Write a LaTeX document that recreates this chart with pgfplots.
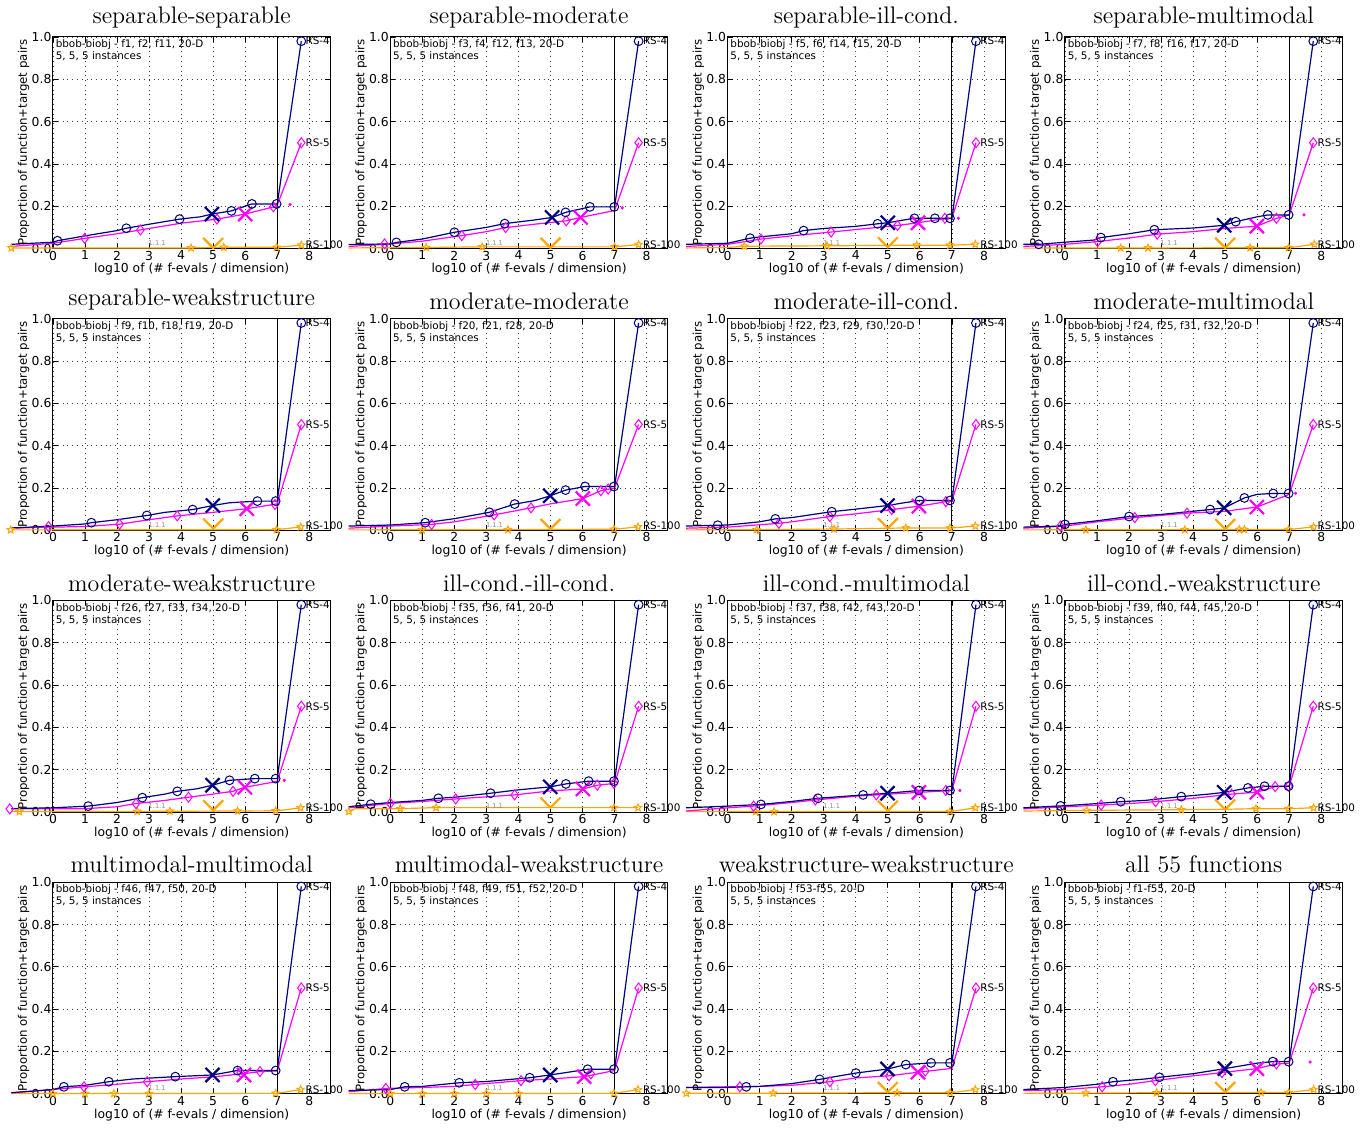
\documentclass[border=0pt]{standalone}
\usepackage{fontspec}
\usepackage{pgfplots}
\pgfplotsset{compat=1.18}
\usetikzlibrary{plotmarks}
\newfontfamily\dv{DejaVu Sans}
\definecolor{navyc}{RGB}{0,0,128}
\definecolor{magc}{RGB}{255,0,255}
\definecolor{orac}{RGB}{255,165,0}
\pgfdeclareplotmark{pstar}{%
 \pgfpathmoveto{\pgfpointpolar{90}{\pgfplotmarksize}}%
 \pgfpathlineto{\pgfpointpolar{126}{0.45\pgfplotmarksize}}%
 \pgfpathlineto{\pgfpointpolar{162}{\pgfplotmarksize}}%
 \pgfpathlineto{\pgfpointpolar{198}{0.45\pgfplotmarksize}}%
 \pgfpathlineto{\pgfpointpolar{234}{\pgfplotmarksize}}%
 \pgfpathlineto{\pgfpointpolar{270}{0.45\pgfplotmarksize}}%
 \pgfpathlineto{\pgfpointpolar{306}{\pgfplotmarksize}}%
 \pgfpathlineto{\pgfpointpolar{342}{0.45\pgfplotmarksize}}%
 \pgfpathlineto{\pgfpointpolar{18}{\pgfplotmarksize}}%
 \pgfpathlineto{\pgfpointpolar{54}{0.45\pgfplotmarksize}}%
 \pgfpathclose\pgfusepathqstroke}
\pgfdeclareplotmark{vee}{%
 \pgfpathmoveto{\pgfqpoint{-\pgfplotmarksize}{\pgfplotmarksize}}%
 \pgfpathlineto{\pgfqpoint{0pt}{0pt}}%
 \pgfpathlineto{\pgfqpoint{\pgfplotmarksize}{\pgfplotmarksize}}%
 \pgfusepathqstroke}
\tikzset{lab/.style={anchor=west, inner sep=0.5pt, xshift=1.5pt, font=\dv\fontsize{5.2}{6}\selectfont}}
\pgfplotsset{
 ecdf/.style={scale only axis, width=139pt, height=106pt,
  xmin=0, xmax=8.66, ymin=0, ymax=1,
  xtick={0,1,2,3,4,5,6,7,8}, xticklabels={0,1,2,3,4,5,6,7,8},
  ytick={0,0.2,0.4,0.6,0.8,1}, yticklabels={0.0,0.2,0.4,0.6,0.8,1.0},
  grid=major, major grid style={dotted, black!75, line width=0.4pt},
  tick align=inside, major tick length=2.5pt, tick style={black, line width=0.4pt},
  axis line style={line width=0.5pt}, clip=false,
  title style={font=\fontsize{12}{14}\selectfont, yshift=-5pt},
  tick label style={font=\dv\fontsize{6.2}{7}\selectfont},
  yticklabel style={inner sep=0.6pt},
  xticklabel style={inner sep=1pt},
  xlabel style={font=\dv\fontsize{6.2}{7}\selectfont, yshift=3pt},
  ylabel style={font=\dv\fontsize{5.9}{7}\selectfont, yshift=-3pt},
  xlabel={log10 of (\# f-evals / dimension)},
  ylabel={Proportion of function+target pairs}},
 c4/.style={color=navyc, line width=0.6pt, mark=none},
 c5/.style={color=magc, line width=0.6pt, mark=none},
 c100/.style={color=orac, line width=0.6pt, mark=none},
 m4/.style={only marks, mark=o, mark size=2.2pt, color=navyc, mark options={line width=0.5pt, fill=none}},
 m5/.style={only marks, mark=diamond, mark size=2.5pt, color=magc, mark options={line width=0.5pt, fill=none}},
 m100/.style={only marks, mark=pstar, mark size=1.9pt, color=orac, mark options={line width=0.5pt}},
 x4/.style={only marks, mark=x, mark size=5pt, color=navyc, mark options={line width=1.1pt}},
 x5/.style={only marks, mark=x, mark size=5pt, color=magc, mark options={line width=1.1pt}},
 v100/.style={only marks, mark=vee, mark size=5pt, color=orac, mark options={line width=1.1pt}},
 dot5/.style={only marks, mark=*, mark size=0.6pt, color=magc},
}
\newcommand{\info}[1]{\node[anchor=north west, inner sep=1.2pt, align=left, font=\dv\fontsize{5.2}{6}\selectfont] at (rel axis cs:0,1) {bbob-biobj - #1, 20-D\\5, 5, 5 instances};}
\newcommand{\common}[1]{%
 \addplot[black, line width=0.5pt] coordinates {(7,0) (7,1)};
 \node[font=\dv\fontsize{3.3}{4}\selectfont, text=black!45, anchor=south, inner sep=0.5pt] at (axis cs:3.25,0.008) {1.1.1};
 \node[lab] at (axis cs:7.75,0.98) {RS-4};
 \node[lab] at (axis cs:7.75,0.5) {RS-5};
 \node[lab] at (axis cs:7.75,#1) {RS-100};}
\begin{document}
\begin{tikzpicture}
% ---------- row 1 ----------
\begin{axis}[ecdf, at={(0pt,0pt)}, title={separable-separable}]
\info{f1, f2, f11}
\addplot[c100] coordinates {(-1.3,0.003)(0,0.003)(4.31,0.003)(5.33,0.006)(7,0.006)(7.75,0.016)};
\addplot[m100] coordinates {(-1.3,0.003)(4.31,0.003)(5.33,0.006)(6.98,0.006)(7.75,0.016)};
\addplot[v100] coordinates {(5,0.003)};
\addplot[c5] coordinates {(-1.3,0.01)(0,0.025)(0.99,0.048)(2,0.07)(2.73,0.088)(4,0.12)(5.12,0.139)(6,0.163)(6.88,0.197)(7,0.205)(7.75,0.5)};
\addplot[m5] coordinates {(0.99,0.048)(2.73,0.088)(5.12,0.139)(6.88,0.197)(7.75,0.5)};
\addplot[x5] coordinates {(6,0.163)};
\addplot[dot5] coordinates {(7.4,0.208)};
\addplot[c4] coordinates {(-1.3,0.02)(0,0.03)(0.14,0.037)(1,0.06)(2,0.085)(2.29,0.096)(3,0.115)(3.95,0.139)(4.6,0.15)(4.96,0.163)(5.57,0.178)(6.21,0.211)(7,0.211)(7.75,0.98)};
\addplot[m4] coordinates {(0.14,0.037)(2.29,0.096)(3.95,0.139)(5.57,0.178)(6.21,0.211)(6.98,0.211)(7.75,0.98)};
\addplot[x4] coordinates {(4.96,0.163)};
\common{0.02}
\end{axis}
\begin{axis}[ecdf, at={(169pt,0pt)}, title={separable-moderate}]
\info{f3, f4, f12, f13}
\addplot[c100] coordinates {(-1.3,0.003)(1.12,0.005)(2.87,0.008)(7,0.008)(7.75,0.019)};
\addplot[m100] coordinates {(1.12,0.005)(2.87,0.008)(7,0.008)(7.75,0.019)};
\addplot[v100] coordinates {(5,0.004)};
\addplot[c5] coordinates {(-1.3,0.01)(-0.18,0.02)(0,0.022)(1,0.035)(2.23,0.061)(3,0.08)(3.6,0.099)(4.5,0.115)(5.49,0.131)(5.94,0.147)(7,0.18)(7.75,0.5)};
\addplot[m5] coordinates {(-0.18,0.022)(2.23,0.061)(3.6,0.099)(5.49,0.131)(7.75,0.5)};
\addplot[x5] coordinates {(5.94,0.147)};
\addplot[dot5] coordinates {(7.24,0.192)};
\addplot[c4] coordinates {(-1.3,0.019)(0,0.022)(0.19,0.029)(1,0.045)(2,0.077)(3,0.1)(3.57,0.118)(4.5,0.135)(5.05,0.147)(5.47,0.171)(6.23,0.197)(7,0.197)(7.75,0.98)};
\addplot[m4] coordinates {(0.19,0.029)(2,0.077)(3.57,0.118)(5.47,0.171)(6.23,0.197)(6.99,0.197)(7.75,0.98)};
\addplot[x4] coordinates {(5.05,0.147)};
\common{0.02}
\end{axis}
\begin{axis}[ecdf, at={(338pt,0pt)}, title={separable-ill-cond.}]
\info{f5, f6, f14, f15}
\addplot[c100] coordinates {(-1.3,0.003)(0,0.005)(0.52,0.011)(3.1,0.013)(5.9,0.016)(7,0.016)(7.73,0.02)};
\addplot[m100] coordinates {(0.52,0.011)(3.1,0.013)(5.9,0.016)(6.94,0.016)(7.73,0.02)};
\addplot[v100] coordinates {(5,0.006)};
\addplot[c5] coordinates {(-1.3,0.01)(0,0.02)(1.04,0.045)(2,0.06)(3.23,0.078)(4,0.09)(5.3,0.109)(5.94,0.122)(6.5,0.135)(7,0.143)(7.75,0.5)};
\addplot[m5] coordinates {(1.04,0.045)(3.23,0.078)(5.3,0.109)(6.78,0.143)(7.75,0.5)};
\addplot[x5] coordinates {(5.94,0.122)};
\addplot[dot5] coordinates {(7.2,0.143)};
\addplot[c4] coordinates {(-1.3,0.02)(0,0.025)(0.7,0.049)(1,0.055)(2,0.07)(2.37,0.085)(3,0.095)(4,0.105)(4.68,0.117)(5,0.122)(5.5,0.135)(5.83,0.143)(7,0.143)(7.75,0.98)};
\addplot[m4] coordinates {(0.7,0.049)(2.37,0.085)(4.68,0.117)(5.83,0.143)(6.47,0.143)(6.94,0.143)(7.75,0.98)};
\addplot[x4] coordinates {(5,0.122)};
\common{0.02}
\end{axis}
\begin{axis}[ecdf, at={(507pt,0pt)}, title={separable-multimodal}]
\info{f7, f8, f16, f17}
\addplot[c100] coordinates {(-1.3,0.002)(7,0.004)(7.78,0.02)};
\addplot[m100] coordinates {(1.74,0.003)(2.59,0.003)(5.78,0.004)(6.98,0.004)(7.78,0.02)};
\addplot[v100] coordinates {(5,0.004)};
\addplot[c5] coordinates {(-1.3,0.01)(0,0.02)(1.02,0.033)(2,0.05)(2.88,0.068)(4,0.08)(5,0.095)(5.99,0.106)(6.6,0.143)(7,0.159)(7.75,0.5)};
\addplot[m5] coordinates {(1.02,0.033)(2.88,0.068)(6.6,0.143)(7.75,0.5)};
\addplot[x5] coordinates {(5.99,0.106)};
\addplot[dot5] coordinates {(7.46,0.159)};
\addplot[c4] coordinates {(-1.3,0.02)(-0.82,0.02)(0,0.03)(0.9,0.04)(1.12,0.052)(2,0.07)(2.79,0.089)(4,0.097)(4.97,0.11)(5.33,0.127)(6,0.15)(6.33,0.159)(7,0.159)(7.75,0.98)};
\addplot[m4] coordinates {(-0.82,0.02)(1.12,0.052)(2.79,0.089)(5.33,0.127)(6.33,0.159)(6.98,0.159)(7.75,0.98)};
\addplot[x4] coordinates {(4.97,0.11)};
\common{0.02}
\end{axis}
% ---------- row 2 ----------
\begin{axis}[ecdf, at={(0pt,-141.15pt)}, title={separable-weakstructure}]
\info{f9, f10, f18, f19}
\addplot[c100] coordinates {(-1.3,0.002)(7,0.003)(7.73,0.016)};
\addplot[m100] coordinates {(-1.32,0.002)(6.98,0.003)(7.73,0.016)};
\addplot[v100] coordinates {(5,0.008)};
\addplot[c5] coordinates {(-1.3,0.01)(-0.14,0.015)(0,0.015)(1,0.018)(2.08,0.029)(3,0.05)(3.88,0.068)(5,0.085)(6.05,0.102)(7,0.125)(7.75,0.5)};
\addplot[m5] coordinates {(-0.14,0.018)(2.08,0.029)(3.88,0.068)(6.93,0.122)(7.75,0.5)};
\addplot[x5] coordinates {(6.05,0.102)};
\addplot[c4] coordinates {(-1.3,0.011)(0,0.02)(1,0.03)(1.2,0.036)(2,0.05)(2.93,0.07)(3.5,0.085)(4.36,0.098)(4.99,0.117)(5.5,0.13)(6.38,0.138)(7,0.138)(7.75,0.98)};
\addplot[m4] coordinates {(1.2,0.036)(2.93,0.07)(4.36,0.098)(6.38,0.138)(6.95,0.138)(7.75,0.98)};
\addplot[x4] coordinates {(4.99,0.117)};
\common{0.02}
\end{axis}
\begin{axis}[ecdf, at={(169pt,-141.15pt)}, title={moderate-moderate}]
\info{f20, f21, f28}
\addplot[c100] coordinates {(-1.3,0.002)(3.67,0.003)(6.98,0.005)(7.73,0.016)};
\addplot[m100] coordinates {(0.99,0.002)(3.67,0.003)(6.98,0.005)(7.73,0.016)};
\addplot[v100] coordinates {(5,0.006)};
\addplot[c5] coordinates {(-1.3,0.01)(0,0.02)(1.29,0.028)(2,0.04)(3.24,0.073)(4.39,0.106)(5,0.125)(6.01,0.15)(6.57,0.187)(7,0.2)(7.75,0.5)};
\addplot[m5] coordinates {(1.29,0.028)(3.24,0.073)(4.39,0.106)(6.57,0.187)(6.8,0.195)(7.75,0.5)};
\addplot[x5] coordinates {(6.01,0.15)};
\addplot[c4] coordinates {(-1.3,0.02)(0,0.025)(1.09,0.036)(2,0.055)(3.09,0.085)(3.88,0.124)(4.5,0.14)(4.99,0.163)(5.47,0.19)(6.08,0.207)(7,0.207)(7.75,0.98)};
\addplot[m4] coordinates {(1.09,0.036)(3.09,0.085)(3.88,0.124)(5.47,0.19)(6.08,0.207)(6.98,0.207)(7.75,0.98)};
\addplot[x4] coordinates {(4.99,0.163)};
\common{0.02}
\end{axis}
\begin{axis}[ecdf, at={(338pt,-141.15pt)}, title={moderate-ill-cond.}]
\info{f22, f23, f29, f30}
\addplot[c100] coordinates {(-1.3,0.002)(0.91,0.003)(3.32,0.006)(5.56,0.011)(7,0.011)(7.73,0.02)};
\addplot[m100] coordinates {(0.91,0.003)(3.32,0.006)(5.56,0.011)(6.94,0.011)(7.73,0.02)};
\addplot[v100] coordinates {(5,0.01)};
\addplot[c5] coordinates {(-1.3,0.01)(0,0.015)(1.6,0.033)(2,0.04)(3.19,0.065)(4,0.078)(5.12,0.098)(5.97,0.114)(6.81,0.135)(7,0.138)(7.75,0.5)};
\addplot[m5] coordinates {(1.6,0.033)(3.19,0.065)(5.12,0.098)(6.81,0.135)(7.75,0.5)};
\addplot[x5] coordinates {(5.97,0.114)};
\addplot[c4] coordinates {(-1.3,0.02)(-0.31,0.024)(0,0.025)(1,0.04)(1.49,0.054)(2,0.06)(3.25,0.088)(4,0.1)(4.99,0.117)(5.5,0.13)(5.99,0.141)(7,0.141)(7.75,0.98)};
\addplot[m4] coordinates {(-0.31,0.024)(1.49,0.054)(3.25,0.088)(5.99,0.141)(6.94,0.141)(7.75,0.98)};
\addplot[x4] coordinates {(4.99,0.117)};
\common{0.02}
\end{axis}
\begin{axis}[ecdf, at={(507pt,-141.15pt)}, title={moderate-multimodal}]
\info{f24, f25, f31, f32}
\addplot[c100] coordinates {(-1.3,0.002)(7,0.004)(7.76,0.016)};
\addplot[m100] coordinates {(0.65,0.002)(3.74,0.003)(5.44,0.004)(5.6,0.004)(6.98,0.004)(7.76,0.016)};
\addplot[v100] coordinates {(5,0.006)};
\addplot[c5] coordinates {(-1.3,0.01)(0,0.02)(1,0.04)(2.18,0.06)(3.81,0.081)(5,0.09)(5.99,0.11)(6.5,0.14)(7,0.17)(7.75,0.5)};
\addplot[m5] coordinates {(-0.14,0.02)(2.18,0.06)(3.81,0.081)(7.75,0.5)};
\addplot[x5] coordinates {(5.99,0.11)};
\addplot[dot5] coordinates {(7.2,0.175)};
\addplot[c4] coordinates {(-1.3,0.015)(-0.1,0.02)(0,0.028)(1,0.045)(2,0.065)(3,0.075)(4,0.09)(4.53,0.098)(4.97,0.106)(5.6,0.153)(6,0.17)(6.5,0.174)(7,0.174)(7.75,0.98)};
\addplot[m4] coordinates {(0,0.028)(2,0.065)(4.53,0.098)(5.6,0.153)(6.5,0.174)(6.98,0.174)(7.75,0.98)};
\addplot[x4] coordinates {(4.97,0.106)};
\common{0.02}
\end{axis}
% ---------- row 3 ----------
\begin{axis}[ecdf, at={(0pt,-282.3pt)}, title={moderate-weakstructure}]
\info{f26, f27, f33, f34}
\addplot[c100] coordinates {(-1.3,0.002)(2.63,0.003)(5.76,0.005)(7,0.006)(7.73,0.02)};
\addplot[m100] coordinates {(-1.05,0.002)(2.63,0.003)(3.65,0.004)(5.76,0.005)(6.95,0.006)(7.73,0.02)};
\addplot[v100] coordinates {(5,0.008)};
\addplot[c5] coordinates {(-1.3,0.015)(0,0.015)(1,0.016)(2,0.025)(2.59,0.04)(3.5,0.055)(4.23,0.07)(5,0.085)(5.62,0.098)(5.99,0.117)(7,0.145)(7.75,0.5)};
\addplot[m5] coordinates {(-1.35,0.015)(2.59,0.04)(4.23,0.07)(5.62,0.098)(7.75,0.5)};
\addplot[x5] coordinates {(5.99,0.117)};
\addplot[dot5] coordinates {(7.22,0.15)};
\addplot[c4] coordinates {(-1.3,0.016)(0,0.02)(1.1,0.028)(2,0.045)(2.79,0.068)(3.5,0.085)(3.88,0.098)(4.5,0.11)(4.98,0.127)(5.51,0.15)(6.3,0.158)(7,0.158)(7.75,0.98)};
\addplot[m4] coordinates {(1.1,0.028)(2.79,0.068)(3.88,0.098)(5.51,0.15)(6.3,0.158)(6.95,0.158)(7.75,0.98)};
\addplot[x4] coordinates {(4.98,0.127)};
\common{0.02}
\end{axis}
\begin{axis}[ecdf, at={(169pt,-282.3pt)}, title={ill-cond.-ill-cond.}]
\info{f35, f36, f41}
\addplot[c100] coordinates {(-1.3,0.003)(-1.1,0.016)(0.31,0.016)(1.43,0.021)(7,0.021)(7.73,0.021)};
\addplot[m100] coordinates {(-1.29,0.003)(0.31,0.016)(1.43,0.021)(6.98,0.021)(7.73,0.021)};
\addplot[v100] coordinates {(5,0.021)};
\addplot[c5] coordinates {(-1.3,0.02)(0,0.041)(1,0.05)(2.04,0.062)(3,0.072)(3.88,0.081)(4.99,0.1)(6.01,0.109)(6.46,0.127)(7,0.135)(7.75,0.5)};
\addplot[m5] coordinates {(0,0.041)(2.04,0.062)(3.88,0.081)(6.46,0.127)(6.98,0.135)(7.75,0.5)};
\addplot[x5] coordinates {(6.01,0.109)};
\addplot[c4] coordinates {(-1.3,0.025)(-0.61,0.037)(0,0.045)(1,0.055)(1.5,0.065)(2,0.07)(3.13,0.089)(4,0.105)(4.99,0.119)(5.48,0.133)(6.19,0.146)(7,0.146)(7.75,0.98)};
\addplot[m4] coordinates {(-0.61,0.037)(1.5,0.065)(3.13,0.089)(5.48,0.133)(6.19,0.146)(6.98,0.146)(7.75,0.98)};
\addplot[x4] coordinates {(4.99,0.119)};
\common{0.021}
\end{axis}
\begin{axis}[ecdf, at={(338pt,-282.3pt)}, title={ill-cond.-multimodal}]
\info{f37, f38, f42, f43}
\addplot[c100] coordinates {(-1.3,0.002)(7,0.003)(7.73,0.02)};
\addplot[m100] coordinates {(0.88,0.002)(1.45,0.002)(6.94,0.003)(7.73,0.02)};
\addplot[v100] coordinates {(5,0.006)};
\addplot[c5] coordinates {(-1.3,0.005)(0,0.02)(0.81,0.028)(2,0.045)(2.74,0.057)(4,0.075)(4.64,0.081)(5.97,0.093)(7,0.102)(7.75,0.5)};
\addplot[m5] coordinates {(0.81,0.028)(2.74,0.057)(4.64,0.081)(6.81,0.102)(7.75,0.5)};
\addplot[x5] coordinates {(5.97,0.093)};
\addplot[dot5] coordinates {(7.25,0.102)};
\addplot[c4] coordinates {(-1.3,0.02)(0,0.028)(1.04,0.036)(2,0.05)(2.82,0.065)(4.23,0.081)(4.99,0.089)(5.97,0.102)(7,0.102)(7.75,0.98)};
\addplot[m4] coordinates {(1.04,0.036)(2.82,0.065)(4.23,0.081)(5.97,0.102)(6.94,0.102)(7.75,0.98)};
\addplot[x4] coordinates {(4.99,0.089)};
\common{0.02}
\end{axis}
\begin{axis}[ecdf, at={(507pt,-282.3pt)}, title={ill-cond.-weakstructure}]
\info{f39, f40, f44, f45}
\addplot[c100] coordinates {(-1.3,0.005)(0,0.007)(0.68,0.008)(3.63,0.011)(5,0.013)(5.96,0.016)(7,0.016)(7.76,0.02)};
\addplot[m100] coordinates {(0.68,0.008)(3.63,0.011)(5.96,0.016)(6.98,0.016)(7.76,0.02)};
\addplot[v100] coordinates {(5,0.012)};
\addplot[c5] coordinates {(-1.3,0.015)(0,0.025)(1.13,0.033)(2,0.04)(2.83,0.049)(4,0.065)(5.2,0.085)(5.99,0.094)(6.56,0.12)(7,0.122)(7.75,0.5)};
\addplot[m5] coordinates {(1.13,0.033)(2.83,0.049)(5.2,0.085)(6.56,0.12)(6.98,0.122)(7.75,0.5)};
\addplot[x5] coordinates {(5.99,0.094)};
\addplot[c4] coordinates {(-1.3,0.02)(-0.14,0.029)(0,0.03)(1,0.04)(1.74,0.049)(2.5,0.055)(3.63,0.073)(4.5,0.085)(4.97,0.093)(5.71,0.114)(6.23,0.122)(7,0.122)(7.75,0.98)};
\addplot[m4] coordinates {(-0.14,0.029)(1.74,0.049)(3.63,0.073)(5.71,0.114)(6.23,0.122)(6.98,0.122)(7.75,0.98)};
\addplot[x4] coordinates {(4.97,0.093)};
\common{0.02}
\end{axis}
% ---------- row 4 ----------
\begin{axis}[ecdf, at={(0pt,-423.45pt)}, title={multimodal-multimodal}]
\info{f46, f47, f50}
\addplot[c100] coordinates {(-1.3,0.001)(7,0.002)(7.73,0.02)};
\addplot[m100] coordinates {(0,0.001)(1,0.001)(1.9,0.001)(3,0.001)(6.95,0.002)(7.73,0.02)};
\addplot[c5] coordinates {(-1.3,0.005)(0,0.02)(0.97,0.033)(2,0.045)(2.94,0.057)(4,0.07)(5,0.08)(5.96,0.095)(6.46,0.105)(7,0.108)(7.75,0.5)};
\addplot[m5] coordinates {(0.97,0.033)(2.94,0.057)(5.86,0.1)(6.46,0.105)(7.75,0.5)};
\addplot[x5] coordinates {(5.96,0.089)};
\addplot[c4] coordinates {(-1.3,0.005)(0,0.02)(0.34,0.033)(1,0.04)(1.74,0.057)(2.5,0.07)(3.82,0.081)(4.98,0.089)(5.76,0.11)(7,0.11)(7.75,0.98)};
\addplot[m4] coordinates {(0.34,0.033)(1.74,0.057)(3.82,0.081)(5.76,0.11)(6.95,0.11)(7.75,0.98)};
\addplot[x4] coordinates {(4.98,0.089)};
\common{0.02}
\end{axis}
\begin{axis}[ecdf, at={(169pt,-423.45pt)}, title={multimodal-weakstructure}]
\info{f48, f49, f51, f52}
\addplot[c100] coordinates {(-1.3,0.001)(7,0.002)(7.73,0.02)};
\addplot[m100] coordinates {(0,0.001)(1,0.001)(2,0.001)(3,0.001)(4,0.001)(6.98,0.002)(7.73,0.02)};
\addplot[c5] coordinates {(-1.3,0.01)(-0.14,0.025)(1,0.03)(2,0.035)(2.65,0.044)(4.08,0.062)(5,0.07)(6.05,0.081)(7,0.11)(7.75,0.5)};
\addplot[m5] coordinates {(-0.14,0.025)(2.65,0.044)(4.08,0.062)(6.26,0.094)(7.75,0.5)};
\addplot[x5] coordinates {(6.05,0.081)};
\addplot[c4] coordinates {(-1.3,0.015)(0,0.02)(0.45,0.033)(1,0.035)(2.15,0.052)(3,0.058)(4.35,0.076)(4.99,0.089)(6.16,0.116)(7,0.116)(7.75,0.98)};
\addplot[m4] coordinates {(0.45,0.033)(2.15,0.052)(4.35,0.076)(6.16,0.116)(6.98,0.116)(7.75,0.98)};
\addplot[x4] coordinates {(4.99,0.089)};
\common{0.02}
\end{axis}
\begin{axis}[ecdf, at={(338pt,-423.45pt)}, title={weakstructure-weakstructure}]
\info{f53-f55}
\addplot[c100] coordinates {(-1.3,0.002)(1.42,0.003)(5.29,0.005)(7,0.005)(7.73,0.02)};
\addplot[m100] coordinates {(-1.29,0.002)(1.42,0.003)(5.29,0.005)(6.94,0.005)(7.73,0.02)};
\addplot[v100] coordinates {(5,0.008)};
\addplot[c5] coordinates {(-1.3,0.03)(0,0.033)(1,0.035)(2,0.04)(3.19,0.057)(4,0.075)(5.04,0.085)(5.94,0.102)(7,0.12)(7.75,0.5)};
\addplot[m5] coordinates {(0.38,0.033)(3.19,0.057)(5.04,0.085)(6.17,0.107)(7.75,0.5)};
\addplot[x5] coordinates {(5.94,0.102)};
\addplot[c4] coordinates {(-1.3,0.03)(0,0.03)(0.58,0.033)(1,0.035)(2,0.048)(2.87,0.068)(3.5,0.085)(4,0.098)(4.99,0.117)(5.56,0.138)(6.35,0.146)(7,0.146)(7.75,0.98)};
\addplot[m4] coordinates {(0.58,0.033)(2.87,0.068)(4,0.098)(5.56,0.138)(6.35,0.146)(6.94,0.146)(7.75,0.98)};
\addplot[x4] coordinates {(4.99,0.117)};
\common{0.02}
\end{axis}
\begin{axis}[ecdf, at={(507pt,-423.45pt)}, title={all 55 functions}]
\info{f1-f55}
\addplot[c100] coordinates {(-1.3,0.002)(0.65,0.003)(2.86,0.005)(6.12,0.006)(7,0.006)(7.76,0.02)};
\addplot[m100] coordinates {(0.65,0.003)(2.86,0.005)(6.12,0.006)(6.98,0.006)(7.76,0.02)};
\addplot[v100] coordinates {(5,0.008)};
\addplot[c5] coordinates {(-1.3,0.015)(0,0.02)(1.16,0.033)(2,0.045)(2.82,0.062)(4,0.085)(4.9,0.1)(5.99,0.119)(6.6,0.141)(7,0.145)(7.75,0.5)};
\addplot[m5] coordinates {(1.16,0.033)(2.82,0.062)(4.9,0.1)(6.6,0.141)(7.75,0.5)};
\addplot[x5] coordinates {(5.99,0.119)};
\addplot[dot5] coordinates {(7.65,0.15)};
\addplot[c4] coordinates {(-1.3,0.02)(0,0.03)(1,0.045)(1.5,0.057)(2.5,0.07)(2.95,0.078)(4,0.095)(4.99,0.119)(6,0.145)(6.49,0.152)(7,0.152)(7.75,0.98)};
\addplot[m4] coordinates {(1.5,0.057)(2.95,0.078)(6.49,0.152)(6.98,0.152)(7.75,0.98)};
\addplot[x4] coordinates {(4.99,0.119)};
\common{0.02}
\end{axis}
\path ([xshift=4pt]current bounding box.east) ([xshift=-3pt]current bounding box.west);
\end{tikzpicture}
\end{document}
